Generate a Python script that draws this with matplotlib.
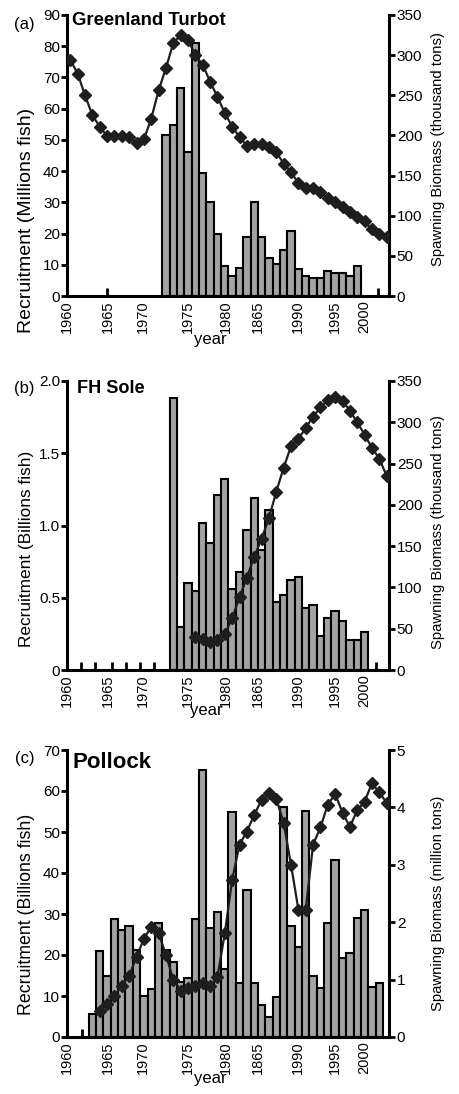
import matplotlib
matplotlib.use("Agg")
import matplotlib.pyplot as plt
from matplotlib.ticker import FixedLocator

plt.rcParams['font.family'] = ['Liberation Sans', 'DejaVu Sans']

W, H = 459, 1094

# x axis, shared by the three panels (labels sit a little off the year grid)
tick_pos = [1959.6, 1965.1, 1969.9, 1976.0, 1981.2, 1985.5, 1990.9, 1996.0, 1999.9]
tick_labels = ["1960", "1965", "1970", "1975", "1980", "1865", "1990", "1995", "2000"]

# (a) Greenland Turbot
turbot_rec_start = 1973
turbot_recruit = [51.6, 54.8, 66.6, 46.0, 81.0, 39.3, 30.0, 19.9, 9.5, 6.4,
                  9.1, 18.9, 30.0, 18.8, 12.3, 10.2, 14.8, 20.9, 8.6, 6.4,
                  5.7, 5.7, 8.0, 7.3, 7.3, 6.5, 9.5]
turbot_bio_start = 1960
turbot_biomass = [294, 277, 250, 225, 211, 199, 199, 199, 198, 191,
                  195, 221, 256, 284, 315, 325, 319, 300, 288, 267,
                  248, 228, 211, 198, 187, 189, 189, 186, 179, 165,
                  154, 141, 135, 134, 129, 122, 117, 111, 105, 99,
                  93, 83, 77, 73]
turbot_marks = [1965.0, 1969.9, 2001.8]

# (b) FH Sole
sole_rec_start = 1974
sole_recruit = [1.88, 0.30, 0.60, 0.55, 1.02, 0.88, 1.21, 1.32, 0.56, 0.68,
                0.97, 1.19, 0.83, 1.11, 0.47, 0.52, 0.62, 0.645, 0.43, 0.45,
                0.235, 0.36, 0.41, 0.34, 0.205, 0.205, 0.26]
sole_bio_start = 1977
sole_biomass = [40, 37, 34, 36, 43, 63, 88, 112, 137, 159,
                184, 216, 245, 271, 280, 293, 307, 318, 327, 331,
                326, 314, 300, 285, 269, 256, 235]
sole_marks = [1961.4, 1963.4, 1965.6, 1967.6, 1969.5, 1971.4, 2001.6]

# (c) Pollock
pollock_rec_start = 1963
pollock_recruit = [5.6, 21.0, 15.0, 28.7, 26.1, 27.1, 21.3, 10.1, 11.7, 27.8,
                   21.3, 18.2, 13.5, 14.5, 28.7, 65.1, 26.7, 30.6, 16.6, 55.0,
                   13.2, 35.9, 13.2, 7.9, 5.0, 9.7, 56.2, 27.1, 21.9, 55.1,
                   15.0, 11.9, 27.9, 43.2, 19.2, 20.5, 29.0, 31.0, 12.1, 13.2]
pollock_bio_start = 1964
pollock_biomass = [0.45, 0.58, 0.72, 0.89, 1.07, 1.39, 1.71, 1.92, 1.81, 1.43,
                   1.00, 0.81, 0.85, 0.89, 0.94, 0.89, 1.05, 1.81, 2.74, 3.35,
                   3.58, 3.87, 4.13, 4.25, 4.15, 3.73, 3.00, 2.22, 2.22, 3.35,
                   3.65, 4.05, 4.23, 3.91, 3.66, 3.95, 4.10, 4.42, 4.26, 4.08]
pollock_marks = [1961.6]

BAR = '#a3a3a3'
INK = '#1e1e1e'

fig = plt.figure(figsize=(W / 100, H / 100), dpi=100)


def px(x, y):
    return x / W, 1 - y / H


def panel(top, bottom, rec_start, rec, bio_start, bio, marks,
          lticks, llabels, lmax, rticks, rmax,
          letter, letter_y, title, title_x, title_y, title_size,
          ylabel, ylabel_y, ylabel_size, y2label, y2label_y, year_xy):
    left, right = 67, 388.5
    ax = fig.add_axes([left / W, 1 - bottom / H, (right - left) / W, (bottom - top) / H])
    yrs = [rec_start + i for i in range(len(rec))]
    ax.bar(yrs, rec, width=1.0, color=BAR, edgecolor='black', linewidth=1.5, zorder=2)
    ax.set_xlim(1959.55, 2003.25)
    ax.set_ylim(0, lmax)
    ax.set_yticks(lticks)
    ax.set_yticklabels(llabels)
    ax.set_xticks(tick_pos)
    ax.set_xticklabels(tick_labels, rotation=90)
    ax.xaxis.set_minor_locator(FixedLocator(marks))
    ax.tick_params(axis='x', which='major', length=0, pad=3, labelsize=10.5)
    ax.tick_params(axis='x', which='minor', direction='in', length=6, width=2, color='black')
    ax.tick_params(axis='y', direction='out', length=4, width=2, pad=1, labelsize=11)
    for s in ('left', 'bottom'):
        ax.spines[s].set_linewidth(2.2)
    ax.spines['top'].set_visible(False)
    ax.spines['right'].set_visible(False)

    ax2 = ax.twinx()
    byrs = [bio_start + i for i in range(len(bio))]
    ax2.plot(byrs, bio, color=INK, lw=1.6, marker='D', ms=6, mfc=INK, mec=INK, zorder=5)
    ax2.set_ylim(0, rmax)
    ax2.set_yticks(rticks)
    ax2.tick_params(axis='y', direction='out', length=4, width=2, pad=2, labelsize=11)
    ax2.spines['right'].set_linewidth(2.2)
    for s in ('top', 'left', 'bottom'):
        ax2.spines[s].set_visible(False)
    ax2.set_xlim(1959.55, 2003.25)

    fig.text(*px(24.5, letter_y), letter, ha='center', va='center', fontsize=12)
    fig.text(*px(title_x, title_y), title, ha='left', va='baseline',
             fontsize=title_size, fontweight='bold')
    fig.text(*px(27, ylabel_y), ylabel, rotation=90, ha='center', va='center',
             fontsize=ylabel_size)
    fig.text(*px(438, y2label_y), y2label, rotation=90, ha='center', va='center',
             fontsize=10.7)
    fig.text(*px(*year_xy), 'year', ha='center', va='center', fontsize=12)


panel(15, 296, turbot_rec_start, turbot_recruit, turbot_bio_start, turbot_biomass, turbot_marks,
      list(range(0, 91, 10)), [str(v) for v in range(0, 91, 10)], 90,
      list(range(0, 351, 50)), 350,
      '(a)', 24, 'Greenland Turbot', 72, 25, 13.3,
      'Recruitment (Millions fish)', 220, 14, 'Spawning Biomass (thousand tons)', 149,
      (210, 339))

panel(381, 670, sole_rec_start, sole_recruit, sole_bio_start, sole_biomass, sole_marks,
      [0, 0.5, 1.0, 1.5, 2.0], ['0', '0.5', '1.0', '1.5', '2.0'], 2.0,
      list(range(0, 351, 50)), 350,
      '(b)', 388, 'FH Sole', 77, 393, 13.1,
      'Recruitment (Billions fish)', 549, 12.4, 'Spawning Biomass (thousand tons)', 532,
      (206, 711))

panel(750, 1037, pollock_rec_start, pollock_recruit, pollock_bio_start, pollock_biomass, pollock_marks,
      list(range(0, 71, 10)), [str(v) for v in range(0, 71, 10)], 70,
      [0, 1, 2, 3, 4, 5], 5,
      '(c)', 758, 'Pollock', 73, 768, 16,
      'Recruitment (Billions fish)', 914, 12.8, 'Spawning Biomass (million tons)', 903,
      (210, 1079))

fig.savefig('out.png', dpi=100)
